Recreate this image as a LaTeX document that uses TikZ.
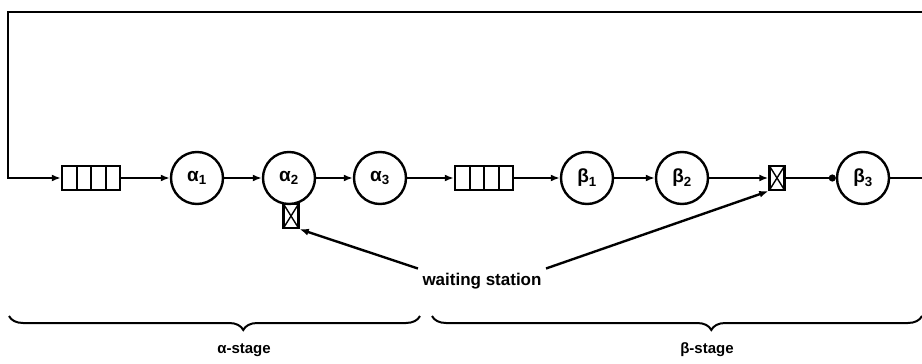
\documentclass[tikz,border=0pt]{standalone}
\usepackage{fontspec}
\setmainfont{Liberation Sans}
\usetikzlibrary{arrows.meta,decorations.pathreplacing,calc}
\begin{document}
\begin{tikzpicture}[x=1pt,y=-1pt,line width=2.4pt,
  station/.style={circle,draw,minimum size=52pt,inner sep=0pt,font=\fontsize{19}{21}\selectfont\bfseries},
  queuebox/.style={draw,minimum width=58pt,minimum height=24pt,inner sep=0pt,
    path picture={\foreach \f in {0.25,0.5,0.75}{\draw[line width=2pt] ($(path picture bounding box.south west)!\f!(path picture bounding box.south east)$) -- ($(path picture bounding box.north west)!\f!(path picture bounding box.north east)$);}}},
  waitbox/.style={draw,minimum width=15pt,minimum height=24pt,inner sep=0pt,
    path picture={\draw[line width=1.4pt] (path picture bounding box.south west) -- (path picture bounding box.north east) (path picture bounding box.north west) -- (path picture bounding box.south east);}},
  arr/.style={-{Latex[length=9pt,width=7pt]}},
  dotarr/.style={-{Circle[length=7pt]}},
  lbl/.style={font=\fontsize{17}{20}\selectfont\bfseries},
  stage/.style={font=\fontsize{15}{18}\selectfont\bfseries},
  brc/.style={decorate,decoration={brace,mirror,amplitude=14pt,aspect=0.57},line width=2pt}]
\useasboundingbox (0,0) rectangle (922,364);
% nodes
\node[queuebox] (q1) at (91,178) {};
\node[station] (a1) at (197,178) {α\textsubscript{1}};
\node[station] (a2) at (289,178) {α\textsubscript{2}};
\node[waitbox] (wa) at (291,216) {};
\node[station] (a3) at (380,178) {α\textsubscript{3}};
\node[queuebox] (q2) at (484,178) {};
\node[station] (b1) at (587,178) {β\textsubscript{1}};
\node[station] (b2) at (682,178) {β\textsubscript{2}};
\node[waitbox] (wb) at (777,178) {};
\node[station] (b3) at (863,178) {β\textsubscript{3}};
\node[lbl] (ws) at (482,281) {waiting station};
\node[stage] (as) at (244,350) {α-stage};
\node[stage] (bs) at (707,350) {β-stage};
% loop coordinates
\coordinate (tr) at (922,12);
\coordinate (tl) at (8,12);
\coordinate (re) at (922,178);
% connectors
\draw[arr] (tr) -- (tl) |- (q1.west);
\draw[arr] (q1) -- (a1);
\draw[arr] (a1) -- (a2);
\draw[arr] (a2) -- (a3);
\draw[arr] (a3) -- (q2);
\draw[arr] (q2) -- (b1);
\draw[arr] (b1) -- (b2);
\draw[arr] (b2) -- (wb);
\draw[dotarr] (wb) -- (b3);
\draw (b3) -- (re);
\draw[arr] (ws.north west) -- (wa.south east);
\draw[arr] (ws.north east) -- (wb.south west);
% braces
\coordinate (ab1) at (9,316);
\coordinate (ab2) at (420,316);
\coordinate (bb1) at (432,316);
\coordinate (bb2) at (922,316);
\draw[brc] (ab1) -- (ab2);
\draw[brc] (bb1) -- (bb2);
\end{tikzpicture}
\end{document}
